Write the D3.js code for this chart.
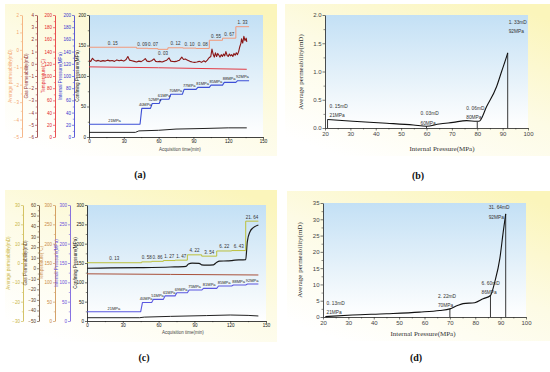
<!DOCTYPE html>
<html><head><meta charset="utf-8">
<script src="https://cdn.jsdelivr.net/npm/d3@7"></script>
<style>body{margin:0;background:#fff}svg{display:block}</style>
</head><body>
<svg id="chart" width="550" height="372"></svg>
<script>
// ================= DATA =================
// (a) time series
const timeTicks = [0, 30, 60, 90, 120, 150];
const avgPermA_bounds = [0, 41, 51, 59.4, 68, 81, 92.3, 103.7, 115.1, 126.6, 138];
const avgPermA = [0.15, 0.09, 0.07, 0.03, 0.12, 0.10, 0.08, 0.55, 0.67, 1.33];
const avgPermA_labels = ["0. 15", "0. 09", "0. 07", "0. 03", "0. 12", "0. 10", "0. 08", "0. 55", "0. 67", "1. 33"];
const internalA_bounds = [0, 44, 53, 60.5, 69, 80.5, 92.3, 103.7, 115.1, 126.6, 138];
const internalA = [21, 47, 55, 62, 70, 78, 81.4, 85, 89.6, 92.3];
const internalA_labels = ["21MPa", "40MPa", "52MPa", "61MPa", "70MPa", "77MPa", "81MPa", "85MPa", "88MPa", "92MPa"];
const gasPermA = [[0,0.25],[1.5,0.2],[3,0.45],[4.5,0.3],[6,0.22],[8,0.28],[10,0.2],[12,0.26],[14,0.22],[16,0.3],[18,0.24],[20,0.27],[22,0.2],[24,0.32],[26,0.25],[28,0.3],[30,0.22],[32,0.35],[33.5,0.6],[35,0.3],[37,0.25],[39,0.2],[41,0.15],[43,0.22],[45,0.18],[47,0.3],[48.5,0.42],[50,0.22],[52,0.18],[54,0.25],[56,0.4],[57.5,0.2],[59,0.17],[61,0.2],[63,0.15],[65,0.22],[67,0.3],[69,0.48],[70.5,0.22],[72,0.2],[74,0.18],[76,0.22],[78,0.3],[80,0.55],[81.5,0.35],[83,0.4],[85,0.3],[87,0.2],[89,0.15],[91,0.12],[93,0.15],[95,0.2],[97,0.12],[99,0.25],[100.5,0.15],[102,0.3],[103.5,0.5],[105,0.6],[106,1.2],[107,0.8],[108,0.55],[109,0.9],[110,0.6],[111,0.85],[112,0.7],[113,0.55],[114,0.75],[115,0.6],[116,0.8],[117,0.65],[118,1.0],[119,0.7],[120,0.6],[121,0.8],[122,0.65],[123,0.75],[124,0.6],[125,0.85],[126,0.7],[127,0.9],[128,0.75],[129,1.0],[130,1.4],[131,1.7],[131.5,2.05],[132.5,1.7],[133.5,2.25],[134.5,1.9],[135.5,2.1],[136,1.8]];
const tempA = [[0,115],[60,113.5],[136,111]];
const confA = [[0,7.6],[40,7.6],[43,10],[60,11],[75,13],[100,14],[120,15],[136,15]];

// (c) time series
const avgPermC_bounds = [0, 45.8, 54.2, 64, 73.8, 84.1, 96.1, 108.7, 121.2, 133, 143.6];
const avgPermC = [0.13, 0.58, 0.86, 1.27, 1.47, 4.22, 3.54, 6.22, 6.43, 21.64];
const avgPermC_labels = ["0. 13", "0. 58", "0. 86", "1. 27", "1. 47", "4. 22", "3. 54", "6. 22", "6. 43", "21. 64"];
const internalC_bounds = [0, 45, 54.2, 64, 73.8, 84.1, 96.1, 108.7, 121.2, 133, 143.6];
const internalC = [24, 48, 56, 65, 73, 80, 84.5, 90.5, 93, 95.5];
const internalC_labels = ["21MPa", "40MPa", "51MPa", "61MPa", "69MPa", "75MPa", "81MPa", "85MPa", "88MPa", "92MPa"];
const gasPermC = [[0,0],[20,0.3],[45,0.6],[70,1.2],[83,1.8],[85,4],[88,4.8],[94,4.7],[96,3.3],[100,3.0],[106,3.3],[108.5,5.5],[111,6.8],[118,7],[121,7.2],[124,7.8],[130,8],[133,8.2],[134.3,25],[136.6,34.7],[139.4,38.5],[143.6,41]];
const tempC = [[0,122],[70,120.5],[143.6,119]];
const confC = [[0,8.5],[44,8.5],[48,10],[70,12],[100,14],[120,15.5],[135,14.5],[143.6,13]];

// (b) permeability vs internal pressure
const pressureB = [21, 31, 44.3, 54.8, 60, 65, 70.5, 75.8, 79.7, 80.7, 83.7, 87.6, 89.6, 91.8, 92];
const permB = [0.15, 0.12, 0.085, 0.053, 0.03, 0.07, 0.10, 0.13, 0.12, 0.12, 0.38, 0.73, 1.0, 1.30, 1.33];
const dropB = [[21,0.15],[60,0.03],[80,0.11],[92,1.33]];
const annB = [["0. 15mD","21MPa"],["0. 03mD","60MPa"],["0. 06mD","80MPa"],["1. 33mD","92MPa"]];

// (d)
const pressureD = [21, 31.6, 45, 58, 66, 70, 73, 75.2, 79.8, 83.1, 86, 87.7, 89.7, 91, 92];
const permD = [0.13, 0.6, 1.0, 1.5, 2.0, 2.5, 3.5, 4.1, 4.4, 5.6, 6.6, 10.8, 18, 26, 31.64];
const dropD = [[21,0.13],[70,2.5],[86,6.6],[92,31.64]];
const annD = [["0. 13mD","21MPa"],["2. 22mD","70MPa"],["6. 60mD","86MPa"],["31. 64mD","92MPa"]];

// ================= DRAW =================
const svg = d3.select("#chart");
const defs = svg.append("defs");
function grad(id, x1, y1, x2, y2, stops) {
  const g = defs.append("linearGradient").attr("id", id)
    .attr("x1", x1).attr("y1", y1).attr("x2", x2).attr("y2", y2);
  stops.forEach(s => g.append("stop").attr("offset", s[0]).attr("stop-color", s[1]));
}
grad("bgY", "85%", "0%", "20%", "100%", [[0, "#fbf5bb"], [0.5, "#fdfbe5"], [1, "#ffffff"]]);
grad("plotBlue", "0%", "0%", "0%", "100%", [[0, "#c3e0f5"], [0.7, "#eef6fb"], [1, "#ffffff"]]);

const SANS = "Liberation Sans, Arial, sans-serif";
const SERIF = "Liberation Serif, Times New Roman, serif";

function styleAxis(sel, color, fs) {
  sel.select(".domain").attr("stroke", color).attr("stroke-width", 0.8);
  sel.selectAll(".tick line").attr("stroke", color).attr("stroke-width", 0.6);
  sel.selectAll(".tick text").attr("fill", color).style("font-size", fs + "px").style("font-family", SANS);
}
function mids(arr) { const m = []; for (let i = 0; i < arr.length - 1; i++) m.push((arr[i] + arr[i + 1]) / 2); return m; }

function vAxis(scale, x, majors, color, title, titleX, fs, fmt) {
  const wrap = svg.append("g").attr("transform", `translate(${x},0)`);
  wrap.append("g").call(d3.axisLeft(scale).tickValues(mids(majors)).tickSize(1.2).tickSizeOuter(0).tickFormat(""))
    .call(s => { s.select(".domain").remove(); s.selectAll("line").attr("stroke", color).attr("stroke-width", 0.5); });
  const g = wrap.append("g");
  g.call(d3.axisLeft(scale).tickValues(majors).tickSize(2).tickPadding(1).tickSizeOuter(0).tickFormat(fmt || d3.format("d")));
  styleAxis(g, color, fs);
  const r = scale.range();
  svg.append("text").attr("transform", `translate(${titleX},${(r[0] + r[1]) / 2}) rotate(-90)`)
    .attr("text-anchor", "middle").attr("fill", color)
    .style("font-size", "4.6px").style("font-family", SANS).text(title);
}
function hAxis(scale, y, majors, color, fs, len) {
  const wrap = svg.append("g").attr("transform", `translate(0,${y})`);
  wrap.append("g").call(d3.axisBottom(scale).tickValues(mids(majors)).tickSize(len * 0.6).tickSizeOuter(0).tickFormat(""))
    .call(s => { s.select(".domain").remove(); s.selectAll("line").attr("stroke", color).attr("stroke-width", 0.5); });
  const g = wrap.append("g");
  g.call(d3.axisBottom(scale).tickValues(majors).tickSize(len).tickPadding(1).tickSizeOuter(0).tickFormat(d3.format("d")));
  styleAxis(g, color, fs);
  return g;
}
function stepPts(bounds, vals) {
  const p = vals.map((v, i) => [bounds[i], v]);
  p.push([bounds[bounds.length - 1], vals[vals.length - 1]]);
  return p;
}
function rampPts(bounds, vals, ramp) {
  const p = [];
  vals.forEach((v, i) => {
    p.push([i === 0 ? bounds[0] : bounds[i] + ramp, v]);
    p.push([bounds[i + 1], v]);
  });
  return p;
}
function path(pts, xs, ys, color, w, curve) {
  svg.append("path").datum(pts)
    .attr("d", d3.line().x(d => xs(d[0])).y(d => ys(d[1])).curve(curve || d3.curveLinear))
    .attr("fill", "none").attr("stroke", color).attr("stroke-width", w).attr("stroke-linejoin", "round");
}
function segLabels(bounds, vals, labels, xs, ys, color, fs, dyFn) {
  vals.forEach((v, i) => {
    svg.append("text").attr("x", xs((bounds[i] + bounds[i + 1]) / 2)).attr("y", ys(v) + dyFn(i))
      .attr("text-anchor", "middle").attr("fill", color)
      .style("font-size", fs + "px").style("font-family", SANS).text(labels[i]);
  });
}

// ---------- Panel (a) ----------
svg.append("rect").attr("x", 5).attr("y", 4).attr("width", 272).attr("height", 152).attr("fill", "url(#bgY)");
const xA = d3.scaleLinear().domain([0, 150]).range([89, 263]);
const yConfA = d3.scaleLinear().domain([0, 200]).range([137, 15]);
const yIntA = d3.scaleLinear().domain([0, 200]).range([137, 15]);
const yTempA = d3.scaleLinear().domain([0, 200]).range([137, 15]);
const yGasA = d3.scaleLinear().domain([-6, 4]).range([137, 15]);
const yAvgA = d3.scaleLinear().domain([-5, 2]).range([137, 15]);
svg.append("rect").attr("x", 89).attr("y", 15).attr("width", 263 - 89).attr("height", 122).attr("fill", "url(#plotBlue)");

vAxis(yAvgA, 22, d3.range(-5, 3, 1), "#f3a56c", "Average permeability(mD)", 12, 4.5);
vAxis(yGasA, 37, d3.range(-6, 5, 1), "#8e2b2b", "Gas Permeability(mD)", 28, 4.5);
vAxis(yTempA, 55, d3.range(0, 201, 20), "#e3262b", "Temperature(°C)", 44.5, 4.5);
vAxis(yIntA, 74, d3.range(0, 201, 20), "#3434cf", "Internal Pressure(MPa)", 62, 4.5);
vAxis(yConfA, 89, d3.range(0, 201, 50), "#111", "Confining Pressure(MPa)", 79, 4.5);
hAxis(xA, 137, timeTicks, "#111", 4.5, 2);
svg.append("text").attr("x", 180).attr("y", 151).attr("text-anchor", "middle").attr("fill", "#444")
  .style("font-size", "4.5px").style("font-family", SANS).text("Acquisition time(min)");

path(confA, xA, yConfA, "#222", 1);
path(tempA, xA, yTempA, "#e23a44", 1);
path(gasPermA, xA, yGasA, "#8b1717", 1.1);
path(stepPts(avgPermA_bounds, avgPermA), xA, yAvgA, "#f2997a", 1, d3.curveStepAfter);
path(rampPts(internalA_bounds, internalA, 1.5), xA, yIntA, "#3d4fd6", 1.1);
segLabels(avgPermA_bounds, avgPermA, avgPermA_labels, xA, yAvgA, "#333", 4.5, i => i === 3 ? 5.5 : -2.5);
segLabels(internalA_bounds, internalA, internalA_labels, xA, yIntA, "#222", 4, () => -2.2);

// ---------- Panel (c) ----------
svg.append("rect").attr("x", 5).attr("y", 190).attr("width", 272).attr("height", 152).attr("fill", "url(#bgY)");
const xC = d3.scaleLinear().domain([0, 150]).range([87, 266]);
const yConfC = d3.scaleLinear().domain([0, 300]).range([321, 205]);
const yIntC = d3.scaleLinear().domain([0, 300]).range([321, 205]);
const yTempC = d3.scaleLinear().domain([0, 300]).range([321, 205]);
const yGasC = d3.scaleLinear().domain([-50, 60]).range([321, 205]);
const yAvgC = d3.scaleLinear().domain([-30, 30]).range([321, 205]);
svg.append("rect").attr("x", 87).attr("y", 205).attr("width", 266 - 87).attr("height", 116).attr("fill", "url(#plotBlue)");

vAxis(yAvgC, 23, d3.range(-30, 31, 10), "#c9b443", "Average permeability(mD)", 10, 4.5);
vAxis(yGasC, 39, d3.range(-50, 61, 10), "#5a3b22", "Gas Permeability(mD)", 27, 4.5);
vAxis(yTempC, 55, d3.range(0, 301, 50), "#c98a45", "Temperature(°C)", 43, 4.5);
vAxis(yIntC, 70, d3.range(0, 301, 50), "#6a4fdc", "Internal Pressure(MPa)", 58, 4.5);
vAxis(yConfC, 87, d3.range(0, 301, 50), "#111", "Confining Pressure(MPa)", 77, 4.5);
hAxis(xC, 321, timeTicks, "#111", 4.5, 2);
svg.append("text").attr("x", 183).attr("y", 334).attr("text-anchor", "middle").attr("fill", "#444")
  .style("font-size", "4.5px").style("font-family", SANS).text("Acquisition time(min)");

path(confC, xC, yConfC, "#222", 1);
path(tempC, xC, yTempC, "#a8503a", 1);
path(gasPermC, xC, yGasC, "#1a1a1a", 1.2, d3.curveMonotoneX);
path(stepPts(avgPermC_bounds, avgPermC), xC, yAvgC, "#bcc03c", 1, d3.curveStepAfter);
path(rampPts(internalC_bounds, internalC, 1.5), xC, yIntC, "#5a57e0", 1.1);
segLabels(avgPermC_bounds, avgPermC, avgPermC_labels, xC, yAvgC, "#333", 4.5, () => -2.5);
segLabels(internalC_bounds, internalC, internalC_labels, xC, yIntC, "#222", 4, () => -2.2);

// ---------- Panel (b) & (d) ----------
function pressurePanel(o) {
  svg.append("rect").attr("x", o.bg[0]).attr("y", o.bg[1]).attr("width", o.bg[2]).attr("height", o.bg[3]).attr("fill", "url(#bgY)");
  const r = o.x.range(), ry = o.y.range();
  svg.append("rect").attr("x", r[0]).attr("y", ry[1]).attr("width", r[1] - r[0]).attr("height", ry[0] - ry[1]).attr("fill", "url(#plotBlue)");
  const wrap = svg.append("g").attr("transform", `translate(${r[0]},0)`);
  wrap.append("g").call(d3.axisLeft(o.y).tickValues(mids(o.yTicks)).tickSize(1.5).tickSizeOuter(0).tickFormat(""))
    .call(s => { s.select(".domain").remove(); s.selectAll("line").attr("stroke", "#222").attr("stroke-width", 0.5); });
  const gy = wrap.append("g");
  gy.call(d3.axisLeft(o.y).tickValues(o.yTicks).tickSize(2.5).tickPadding(1).tickSizeOuter(0).tickFormat(o.yFmt));
  styleAxis(gy, "#222", 6);
  gy.selectAll(".tick text").attr("fill", "#444");
  const gx = hAxis(o.x, ry[0], d3.range(20, 101, 10), "#222", 6, 2.5);
  gx.selectAll(".tick text").attr("fill", "#444");
  svg.append("text").attr("x", o.xt[0]).attr("y", o.xt[1]).attr("text-anchor", "middle").attr("fill", "#333")
    .style("font-size", "7px").style("font-family", SERIF).text("Internal Pressure(MPa)");
  svg.append("text").attr("transform", `translate(${o.yt[0]},${o.yt[1]}) rotate(-90)`).attr("text-anchor", "middle").attr("fill", "#333")
    .style("font-size", "7px").style("font-family", SERIF).text("Average permeability(mD)");
  o.drops.forEach(d => {
    svg.append("line").attr("x1", o.x(d[0])).attr("x2", o.x(d[0])).attr("y1", o.y(0)).attr("y2", o.y(d[1]))
      .attr("stroke", "#222").attr("stroke-width", 0.9);
  });
  svg.append("path").datum(o.px.map((p, i) => [p, o.py[i]]))
    .attr("d", d3.line().x(d => o.x(d[0])).y(d => o.y(d[1])).curve(d3.curveMonotoneX))
    .attr("fill", "none").attr("stroke", "#111").attr("stroke-width", 1.1);
  o.ann.forEach((a, i) => {
    const d = o.drops[i], s = o.annPos[i];
    const t = svg.append("g").attr("transform", `translate(${o.x(d[0]) + s[0]},${o.y(d[1]) + s[1]})`);
    t.append("text").attr("text-anchor", s[2]).attr("fill", "#333").style("font-size", "4.8px").style("font-family", SANS).text(a[0]);
    t.append("text").attr("y", s[3]).attr("text-anchor", s[2]).attr("fill", "#333").style("font-size", "4.8px").style("font-family", SANS).text(a[1]);
  });
  svg.append("text").attr("x", o.lab[0]).attr("y", o.lab[1]).attr("text-anchor", "middle").attr("fill", "#111")
    .style("font-size", "10px").style("font-weight", "bold").style("font-family", SERIF).text(o.lab[2]);
}

pressurePanel({
  bg: [285, 4, 265, 152],
  x: d3.scaleLinear().domain([20, 100]).range([325, 528]),
  y: d3.scaleLinear().domain([0, 2]).range([128, 15]),
  yTicks: [0, 0.5, 1, 1.5, 2], yFmt: d3.format(".1f"),
  xt: [442, 151], yt: [303, 72],
  drops: dropB, px: pressureB, py: permB, ann: annB,
  annPos: [[2, -12, "start", 9], [-6, -11, "start", 10], [-11, -12, "start", 9], [1, -29, "start", 9]],
  lab: [418, 179, "(b)"]
});
pressurePanel({
  bg: [287, 191, 263, 150],
  x: d3.scaleLinear().domain([20, 100]).range([323, 526]),
  y: d3.scaleLinear().domain([0, 35]).range([317, 203]),
  yTicks: d3.range(0, 36, 5), yFmt: d3.format("d"),
  xt: [423, 336], yt: [302, 260],
  drops: dropD, px: pressureD, py: permD, ann: annD,
  annPos: [[1, -12, "start", 9.5], [-12, -11, "start", 9.5], [-9, -11, "start", 9.5], [-17, -5, "start", 10]],
  lab: [416, 361, "(d)"]
});
svg.append("text").attr("x", 140).attr("y", 178).attr("text-anchor", "middle").attr("fill", "#111")
  .style("font-size", "10px").style("font-weight", "bold").style("font-family", SERIF).text("(a)");
svg.append("text").attr("x", 144).attr("y", 361).attr("text-anchor", "middle").attr("fill", "#111")
  .style("font-size", "10px").style("font-weight", "bold").style("font-family", SERIF).text("(c)");
</script>
</body></html>
